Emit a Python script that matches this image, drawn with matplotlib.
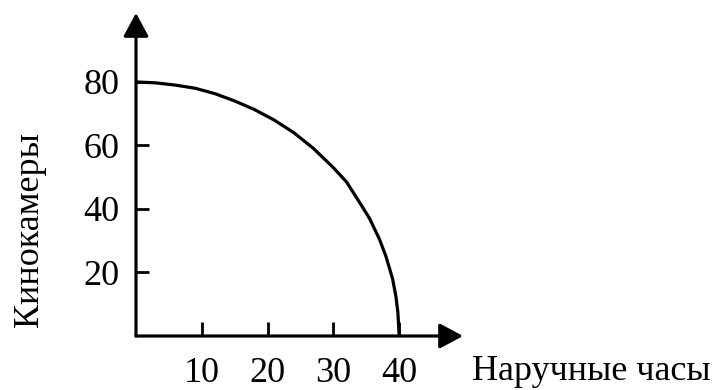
import matplotlib

matplotlib.use("Agg")
import matplotlib.pyplot as plt

# production possibilities frontier
watches = [0, 3, 6, 9, 12, 15, 18, 21, 24, 27, 30, 32, 34, 35.5, 37, 38, 39, 39.5, 39.8, 40]
cameras = [80, 79.7, 79, 78, 76.3, 74, 71.3, 68, 64, 59, 53, 48.5, 42, 37, 30.5, 25, 18, 12.5, 7.5, 0]

x_ticks = [10, 20, 30, 40]
y_ticks = [20, 40, 60, 80]
x_label = "Наручные часы"
y_label = "Кинокамеры"

W, H = 713, 390
fig = plt.figure(figsize=(W / 100, H / 100), dpi=100)
plt.rcParams["font.family"] = ["Liberation Serif", "DejaVu Serif"]

# axes box in pixels: origin (136, 336), arrow tips at x=463 and y=13
ax = fig.add_axes([136 / W, 54 / H, (463 - 136) / W, (336 - 13) / H])
ax.set_xlim(0, 49.7)
ax.set_ylim(0, 101.7)

ax.plot(watches, cameras, color="black", linewidth=2.3, solid_capstyle="butt")

for spine in ax.spines.values():
    spine.set_visible(False)

arrow = dict(arrowstyle="-|>,head_length=0.65,head_width=0.35", color="black",
             lw=2.3, mutation_scale=22, shrinkA=0, shrinkB=0)
ax.annotate("", xy=(0, 1), xytext=(0, 0), xycoords="axes fraction",
            arrowprops=arrow, annotation_clip=False)
ax.annotate("", xy=(1, 0), xytext=(0, 0), xycoords="axes fraction",
            arrowprops=arrow, annotation_clip=False)

ax.set_xticks(x_ticks)
ax.set_yticks(y_ticks)
ax.tick_params(axis="x", direction="in", length=10, width=2, pad=15, labelsize=26)
ax.tick_params(axis="y", direction="in", length=9, width=2, pad=12, labelsize=26)

fig.text(30 / W, 160 / H, y_label, rotation=90, ha="center", va="center", fontsize=26)
fig.text(472 / W, 18 / H, x_label, ha="left", va="center", fontsize=26)

fig.savefig("out.png", dpi=100, facecolor="white")
